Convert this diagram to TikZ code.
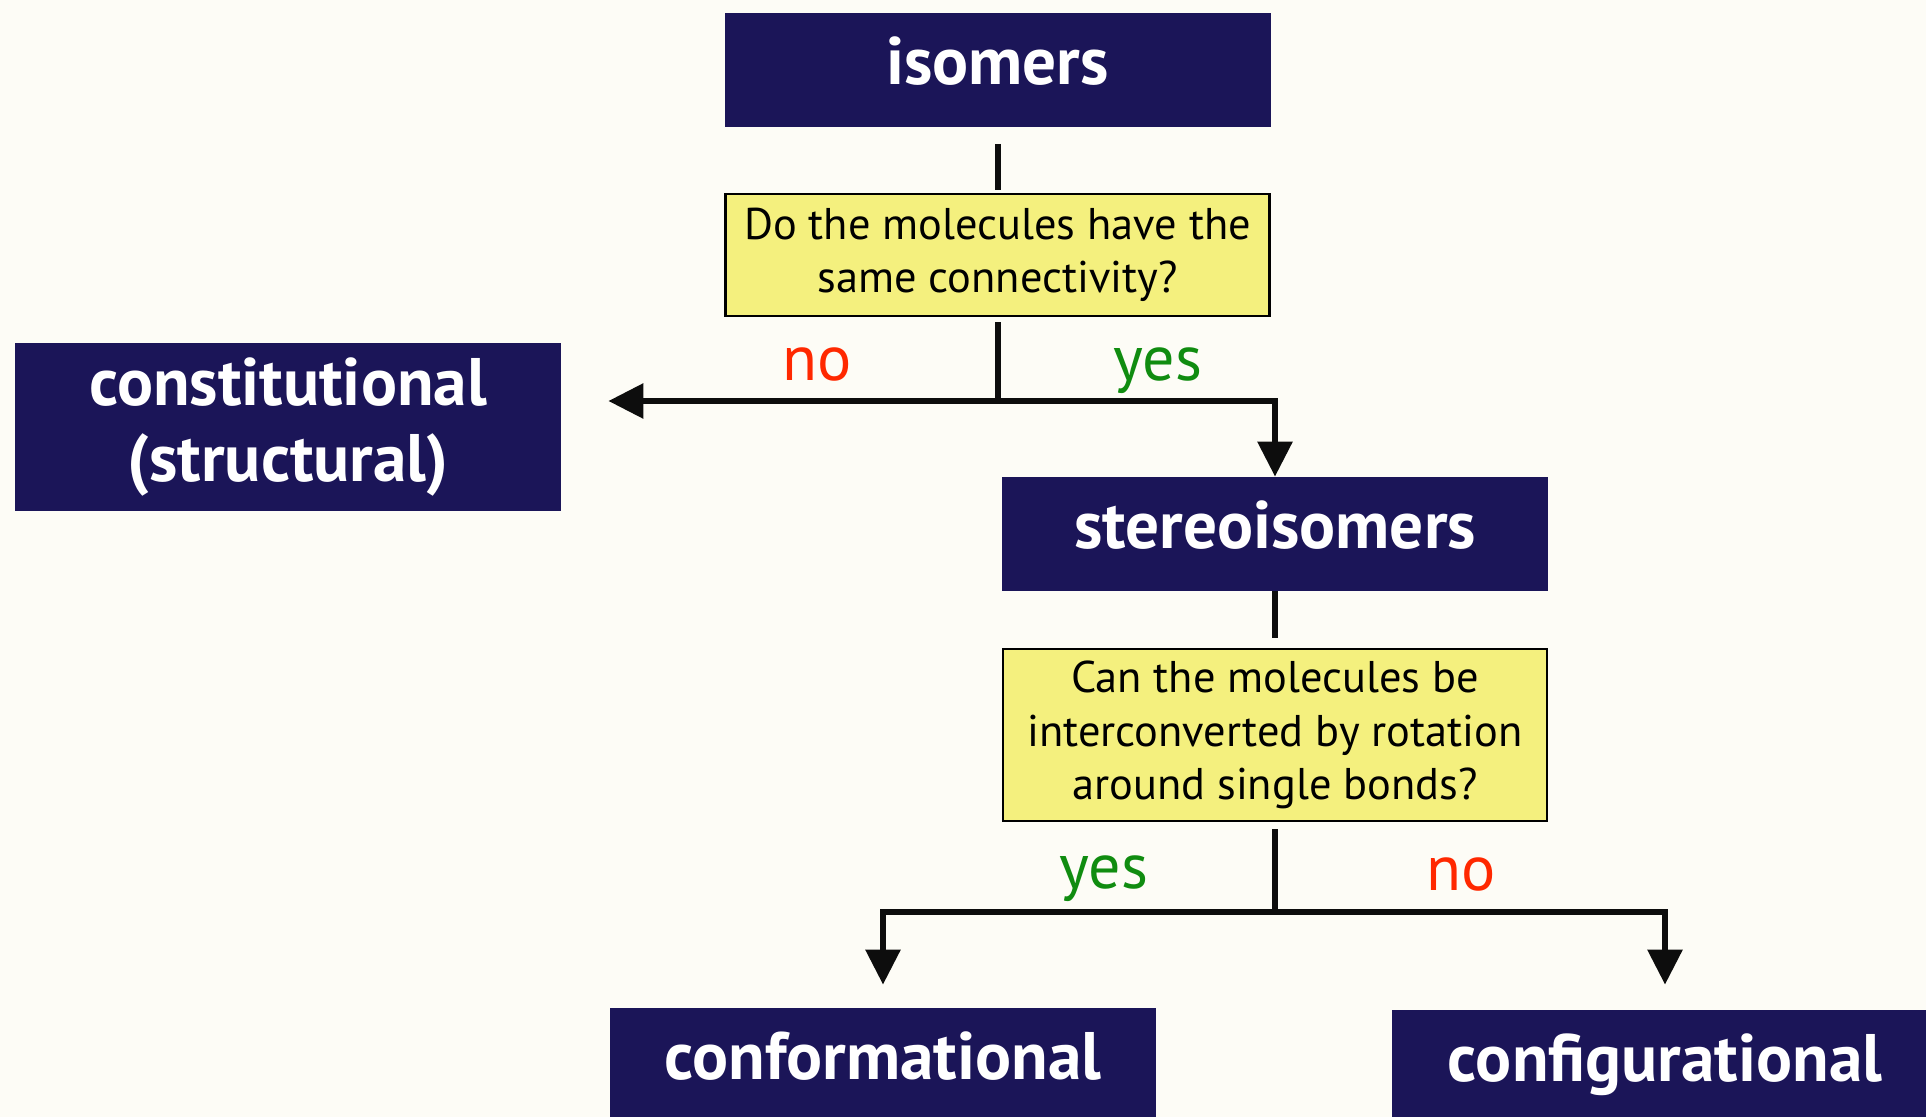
\documentclass[tikz,border=0pt]{standalone}
\usepackage{fontspec}
\setmainfont{PT Sans}
\usetikzlibrary{arrows.meta,calc}
\definecolor{navy}{RGB}{27,21,88}
\definecolor{qyellow}{RGB}{244,240,126}
\definecolor{bg}{RGB}{253,252,246}
\definecolor{nored}{RGB}{255,40,0}
\definecolor{yesgreen}{RGB}{16,140,16}
\begin{document}
\begin{tikzpicture}[x=0.5pt,y=-0.5pt,
  catbox/.style={fill=navy, text=white, font=\fontsize{33.6}{38}\selectfont\bfseries,
    minimum width=273pt, minimum height=57pt, inner sep=0pt, align=center},
  single/.style={text height=23pt, text depth=8.5pt},
  qbox/.style={fill=qyellow, draw=black, line width=1.25pt,
    font=\fontsize{22.2}{26.6}\selectfont, minimum width=272pt, inner sep=0pt, align=center},
  conn/.style={line width=3pt, draw=black!95},
  arr/.style={conn, -{Triangle[length=17.5pt,width=17pt]}},
  lbl/.style={font=\fontsize{32}{38}\selectfont, anchor=base},
]
\useasboundingbox (0,0) rectangle (1926,1117);
\fill[bg] (0,0) rectangle (1926,1117);
\clip (0,0) rectangle (1926,1117);

\node[catbox, single] (iso) at (997.5,70.5) {isomers};
\node[qbox, minimum height=61pt] (q1) at (997.5,255) {Do the molecules have the\\same connectivity?};
\node[catbox, minimum height=84pt] (const) at (288,427) {constitutional\\(structural)};
\node[catbox, single] (stereo) at (1275,534) {stereoisomers};
\node[qbox, minimum height=86pt] (q2) at (1275,735) {Can the molecules be\\interconverted by rotation\\around single bonds?};
\node[catbox, single] (conf) at (883,1065) {conformational};
\node[catbox, single] (config) at (1665,1067) {configurational};

\node[lbl, text=nored] (no1) at (817,380) {no};
\node[lbl, text=yesgreen] (yes1) at (1158,380) {yes};
\node[lbl, text=yesgreen] (yes2) at (1104,888) {yes};
\node[lbl, text=nored] (no2) at (1461,890) {no};

\coordinate (j1) at (997.5,401);
\coordinate (j2) at (1275,912);

\draw[conn] ($(iso.south)+(0,16)$) -- ($(q1.north)+(0,-3)$);
\draw[conn] ($(q1.south)+(0,5)$) -- (j1);
\draw[arr, shorten >=23.5pt] (j1) -- (const.east |- j1);
\draw[arr] (j1) -| (stereo.north);
\draw[conn] (stereo.south) -- ($(q2.north)+(0,-10)$);
\draw[conn] ($(q2.south)+(0,7)$) -- (j2);
\draw[arr, shorten >=11.5pt] (j2) -| (conf.north);
\draw[arr, shorten >=12.5pt] (j2) -| (config.north);
\end{tikzpicture}
\end{document}
